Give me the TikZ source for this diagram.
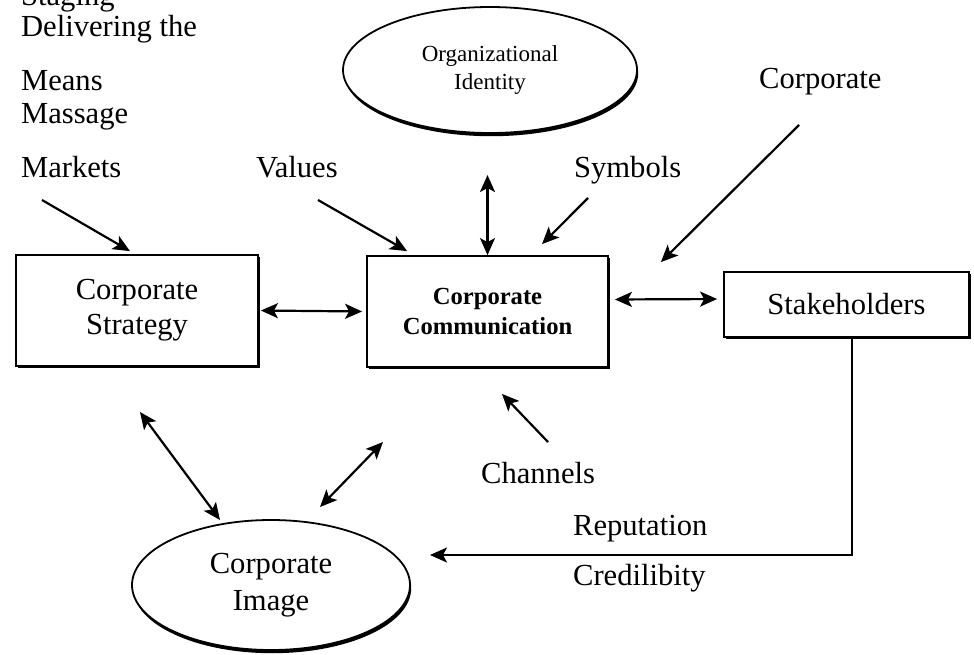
\documentclass[tikz,border=0pt]{standalone}
\usepackage{fontspec}
\setmainfont{Liberation Serif}
\usepackage{tikz}
\usetikzlibrary{arrows.meta,shapes.geometric,shadows}
\newcommand{\lbl}{\fontsize{15.3}{17.5}\selectfont}
\newcommand{\smalllbl}{\fontsize{11.5}{14}\selectfont}
\newcommand{\boldlbl}{\fontsize{12.3}{15}\selectfont\bfseries}

\begin{document}
\begin{tikzpicture}[x=0.5pt,y=-0.5pt,
  >={Stealth[length=8.5pt,width=7.5pt,inset=2pt]},
  line width=1.1pt,
  word/.style={anchor=base west,inner sep=0pt,font=\lbl},
  block/.style={draw,fill=white,line width=0.9pt,align=center,inner sep=0pt,
    drop shadow={shadow xshift=0.9pt,shadow yshift=-0.9pt,fill=black,opacity=1}},
  oval/.style={ellipse,draw,fill=white,line width=0.9pt,align=center,inner sep=0pt,
    drop shadow={shadow xshift=0.6pt,shadow yshift=-1.6pt,fill=black,opacity=1}}]
\useasboundingbox (0,0) rectangle (974,654);

\node (strategy) [block,minimum width=121pt,minimum height=55.5pt,font=\lbl] at (137,310.5) {Corporate\\Strategy};
\node (comm) [block,minimum width=120.5pt,minimum height=55.5pt,font=\boldlbl] at (487.5,311.5) {Corporate\\Communication};
\node (stake) [block,minimum width=122.5pt,minimum height=32.5pt,font=\lbl] at (846.5,304.5) {Stakeholders};
\node (identity) [oval,minimum width=147pt,minimum height=63pt,font=\smalllbl] at (490,70) {Organizational\\Identity};
\node (image) [oval,minimum width=139pt,minimum height=65pt,font=\fontsize{15.3}{18.5}\selectfont] at (271,585) {Corporate\\Image};

\node (staging) [word] at (20,5) {Staging};
\node (delivering) [word] at (20,36) {Delivering the};
\node (means) [word] at (20,90) {Means};
\node (massage) [word] at (20,123) {Massage};
\node (markets) [word] at (20,177) {Markets};
\node (values) [word] at (255,177) {Values};
\node (symbols) [word] at (573,177) {Symbols};
\node (corporate) [word] at (758,88) {Corporate};
\node (channels) [word] at (480,483) {Channels};
\node (reputation) [word] at (572,535) {Reputation};
\node (credibility) [word] at (572,585) {Credilibity};

\coordinate (markets-tail) at (42,200);
\coordinate (values-tail) at (318,200);
\coordinate (symbols-tail) at (588,198);
\coordinate (corporate-tail) at (799,125);
\coordinate (channels-tail) at (548,442);
\coordinate (identity-tip) at (487.5,175);
\coordinate (strategy-tip) at (140,412);
\coordinate (comm-tip) at (383,442);
\coordinate (image-left) at (220,520);
\coordinate (image-right) at (320,507);
\coordinate (feedback-tip) at (430,555);

\path [->]

(markets-tail)
edge
([xshift=-3.5pt,yshift=1.5pt]strategy.north)

(values-tail)
edge
([xshift=20.5pt,yshift=2pt]comm.north west)

(symbols-tail)
edge
([xshift=27.25pt,yshift=5.5pt]comm.north)

(corporate-tail)
edge
([xshift=26pt,yshift=-3.5pt]comm.north east)

(channels-tail)
edge
([xshift=7.25pt,yshift=-13pt]comm.south)

;

\path [<->]

(identity-tip)
edge
(comm.north)

(strategy.east)
edge [shorten <=1pt,shorten >=2pt]
(comm.west)

([yshift=6pt]comm.east)
edge [shorten <=3pt,shorten >=3pt]
([yshift=2.75pt]stake.west)

(strategy-tip)
edge
(image-left)

(comm-tip)
edge
(image-right)

;

\draw [->] ([xshift=2.75pt]stake.south) |- (feedback-tip);
\end{tikzpicture}
\end{document}
